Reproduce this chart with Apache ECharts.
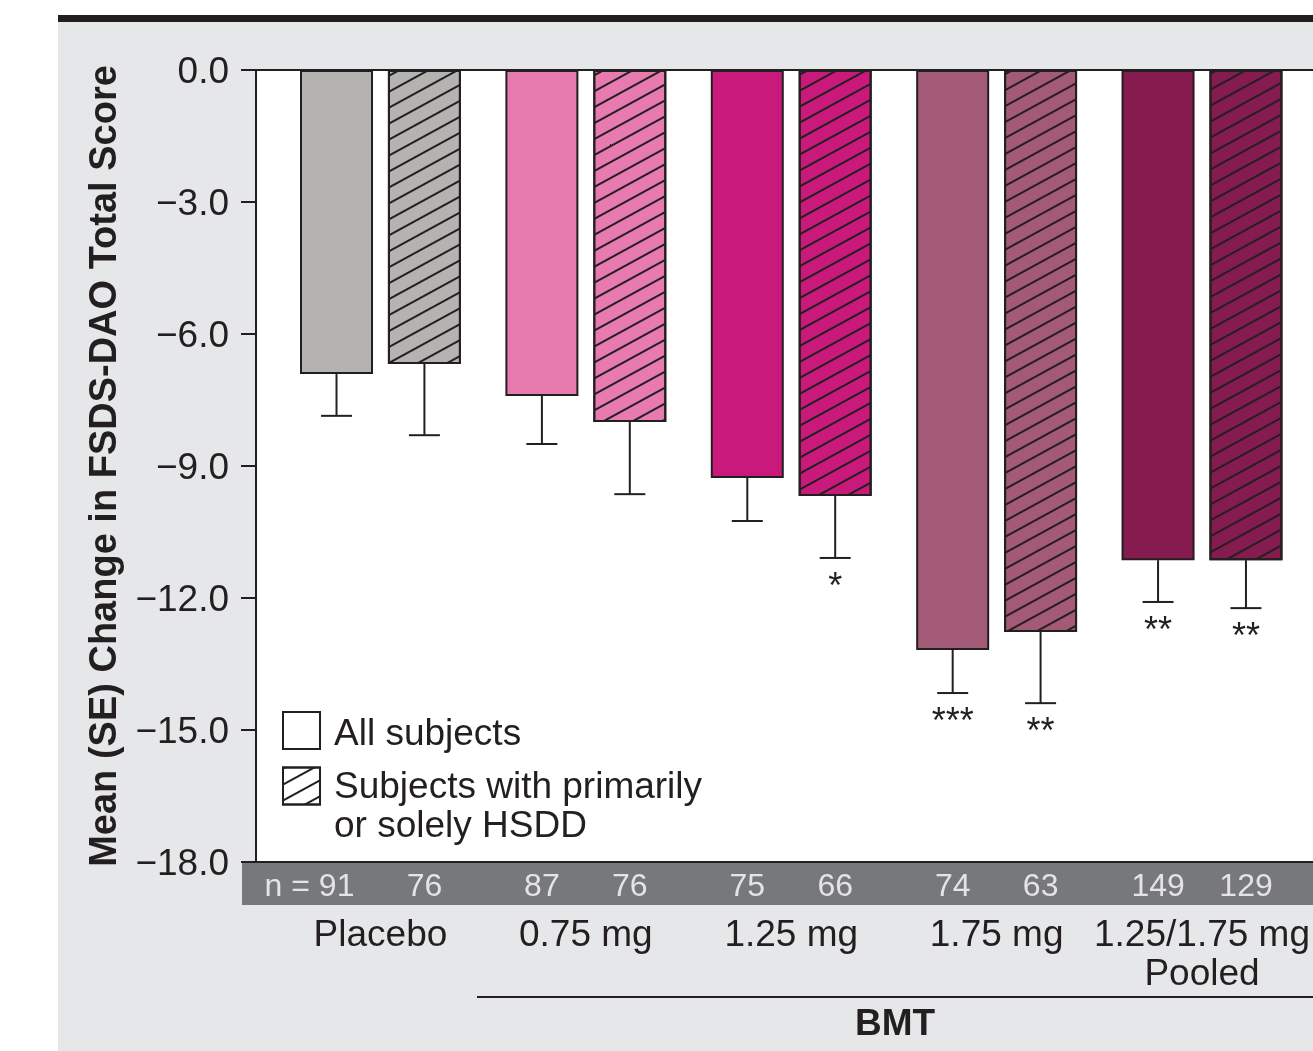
<!DOCTYPE html>
<html>
<head>
<meta charset="utf-8">
<script src="https://cdn.jsdelivr.net/npm/echarts@6/dist/echarts.min.js"></script>
<style>
html,body{margin:0;padding:0;background:#fff;}
#chart{width:1313px;height:1051px;}
</style>
</head>
<body>
<div id="chart"></div>
<script>
// ---------- data ----------
const categories = ['Placebo', '0.75 mg', '1.25 mg', '1.75 mg', '1.25/1.75 mg\nPooled'];
const seriesNames = ['All subjects', 'Subjects with primarily\nor solely HSDD'];
const allMean  = [-6.91, -7.41, -9.27, -13.18, -11.14];
const allSE    = [0.95, 1.09, 0.98, 0.98, 0.95];
const hsddMean = [-6.68, -8.00, -9.68, -12.77, -11.14];
const hsddSE   = [1.62, 1.64, 1.41, 1.62, 1.09];
const allN  = [91, 87, 75, 74, 149];
const hsddN = [76, 76, 66, 63, 129];
const allSig  = ['', '', '', '***', '**'];
const hsddSig = ['', '', '*', '**', '**'];
const yTicks = [0, -3, -6, -9, -12, -15, -18];
const groupLabel = 'BMT';

// ---------- style ----------
const INK = '#231f20';
const FONT = '"Liberation Sans", Arial, Helvetica, sans-serif';
const groupColors = ['#b4b3b1', '#e77bb0', '#c91a7b', '#a35a77', '#861b50'];
const X_MIN = -0.606, X_MAX = 4.54, PAIR_OFF = 0.214;
const hatch = {
  symbol: 'rect', symbolSize: 1, color: INK, backgroundColor: null,
  dashArrayX: [1, 0], dashArrayY: [2, 12], rotation: -0.5
};

function errRender(sig) {
  return function (params, api) {
    const x = api.value(0), m = api.value(1), lo = api.value(2);
    const p1 = api.coord([x, m]);
    const p2 = api.coord([x, lo]);
    const st = { stroke: INK, lineWidth: 2 };
    const children = [
      { type: 'line', shape: { x1: p1[0], y1: p1[1], x2: p2[0], y2: p2[1] }, style: st },
      { type: 'line', shape: { x1: p2[0] - 15.5, y1: p2[1], x2: p2[0] + 15.5, y2: p2[1] }, style: st }
    ];
    const s = sig[params.dataIndex];
    if (s) {
      children.push({ type: 'text', x: p2[0], y: p2[1] + 30,
        style: { text: s, fill: INK, fontSize: 36, fontFamily: FONT, align: 'center', verticalAlign: 'middle' } });
    }
    return { type: 'group', children: children };
  };
}

const chart = echarts.init(document.getElementById('chart'), null, { renderer: 'canvas' });

const nData = [];
allN.forEach((n, i) => nData.push({ value: [i - PAIR_OFF, 0.5], n: n,
  label: i === 0 ? { offset: [-27, 3] } : undefined }));
hsddN.forEach((n, i) => nData.push({ value: [i + PAIR_OFF, 0.5], n: n }));

const option = {
  backgroundColor: '#ffffff',
  animation: false,
  textStyle: { fontFamily: FONT },
  graphic: [
    { type: 'rect', z: -10, shape: { x: 58, y: 22, width: 1255, height: 1029 }, style: { fill: '#e6e7e8' } },
    { type: 'rect', z: -10, shape: { x: 58, y: 15, width: 1255, height: 7 }, style: { fill: INK } },
    { type: 'rect', z: 1, shape: { x: 242, y: 863, width: 1071, height: 42 }, style: { fill: '#77787b' } },
    { type: 'line', z: 1, shape: { x1: 477, y1: 997, x2: 1313, y2: 997 }, style: { stroke: INK, lineWidth: 2 } },
    { type: 'text', z: 1, x: 895, y: 1025, style: { text: groupLabel, fill: INK, fontSize: 37, fontWeight: 'bold',
      fontFamily: FONT, align: 'center', verticalAlign: 'middle' } }
  ],
  legend: [
    { left: 282, top: 707, orient: 'vertical', padding: 0, itemWidth: 37, itemHeight: 37,
      data: [{ name: seriesNames[0], icon: 'rect' }],
      itemStyle: { color: '#ffffff', borderColor: INK, borderWidth: 2 },
      formatter: name => '{e| }\n{a|' + name + '}',
      textStyle: { color: INK, fontFamily: FONT, padding: [0, 0, 0, 9],
        rich: { e: { fontSize: 8, lineHeight: 8 }, a: { fontSize: 37, lineHeight: 39, color: INK, fontFamily: FONT } } } },
    { left: 282, top: 742, orient: 'vertical', padding: 0, itemWidth: 37, itemHeight: 37,
      data: [{ name: seriesNames[1], icon: 'rect' }],
      itemStyle: { color: '#ffffff', borderColor: INK, borderWidth: 2 },
      formatter: name => '{e| }\n' + name.split('\n').map(s => '{a|' + s + '}').join('\n'),
      textStyle: { color: INK, fontFamily: FONT, padding: [0, 0, 0, 9],
        rich: { e: { fontSize: 10, lineHeight: 42 }, a: { fontSize: 37, lineHeight: 39, color: INK, fontFamily: FONT } } } }
  ],
  grid: [
    { left: 256, right: 0, top: 70, bottom: 189, show: true, backgroundColor: '#ffffff', borderWidth: 0 },
    { left: 256, right: 0, top: 863, height: 42, show: false }
  ],
  xAxis: [
    { gridIndex: 0, type: 'value', min: X_MIN, max: X_MAX, position: 'bottom',
      axisLine: { show: true, onZero: false, lineStyle: { color: INK, width: 2 } },
      axisTick: { show: false }, splitLine: { show: false },
      axisLabel: { show: true, customValues: categories.map((c, i) => i),
        formatter: v => categories[Math.round(v)], fontSize: 37, lineHeight: 39, margin: 54,
        color: INK, fontFamily: FONT } },
    { gridIndex: 0, type: 'value', min: X_MIN, max: X_MAX, position: 'top',
      axisLine: { show: true, onZero: false, lineStyle: { color: INK, width: 2 } },
      axisTick: { show: false }, axisLabel: { show: false }, splitLine: { show: false } },
    { gridIndex: 1, type: 'value', min: X_MIN, max: X_MAX, show: false, splitLine: { show: false } }
  ],
  yAxis: [
    { gridIndex: 0, type: 'value', min: Math.min(...yTicks), max: Math.max(...yTicks), interval: yTicks[0] - yTicks[1],
      name: 'Mean (SE) Change in FSDS-DAO Total Score', nameLocation: 'middle', nameRotate: 90, nameGap: 130,
      nameTextStyle: { fontSize: 38, fontWeight: 'bold', color: INK, fontFamily: FONT },
      axisLine: { show: true, onZero: false, lineStyle: { color: INK, width: 2 } },
      axisTick: { show: true, length: 15, lineStyle: { color: INK, width: 2 } },
      splitLine: { show: false },
      axisLabel: { color: INK, margin: 27, fontFamily: FONT,
        formatter: v => '{e| }\n{a|' + (v < 0 ? '\u2212' : '') + Math.abs(v).toFixed(1) + '}',
        rich: { e: { fontSize: 6, lineHeight: 6 }, a: { fontSize: 37, lineHeight: 39, color: INK, fontFamily: FONT } } } },
    { gridIndex: 1, type: 'value', min: 0, max: 1, show: false, splitLine: { show: false } }
  ],
  series: [
    { name: seriesNames[0], type: 'bar', xAxisIndex: 0, yAxisIndex: 0, barWidth: 73, barGap: '-100%',
      itemStyle: { borderColor: INK, borderWidth: 2 },
      data: allMean.map((v, i) => ({ value: [i - PAIR_OFF, v], itemStyle: { color: groupColors[i] } })) },
    { name: seriesNames[1], type: 'bar', xAxisIndex: 0, yAxisIndex: 0, barWidth: 73, barGap: '-100%',
      itemStyle: { borderColor: INK, borderWidth: 2, decal: hatch },
      data: hsddMean.map((v, i) => ({ value: [i + PAIR_OFF, v], itemStyle: { color: groupColors[i], decal: hatch } })) },
    { name: seriesNames[0], type: 'custom', xAxisIndex: 0, yAxisIndex: 0, z: 3,
      renderItem: errRender(allSig), encode: { x: 0, y: 1 },
      data: allMean.map((m, i) => [i - PAIR_OFF, m, m - allSE[i]]) },
    { name: seriesNames[1], type: 'custom', xAxisIndex: 0, yAxisIndex: 0, z: 3,
      renderItem: errRender(hsddSig), encode: { x: 0, y: 1 },
      data: hsddMean.map((m, i) => [i + PAIR_OFF, m, m - hsddSE[i]]) },
    { name: 'n', type: 'scatter', xAxisIndex: 2, yAxisIndex: 1, symbol: 'circle', symbolSize: 1, z: 5,
      itemStyle: { color: 'rgba(0,0,0,0)' }, silent: true,
      label: { show: true, position: 'inside', color: '#ffffff', fontSize: 32, fontFamily: FONT, offset: [0, 3],
        formatter: p => (p.dataIndex === 0 ? 'n = ' : '') + p.data.n },
      data: nData }
  ]
};
chart.setOption(option);
</script>
</body>
</html>
